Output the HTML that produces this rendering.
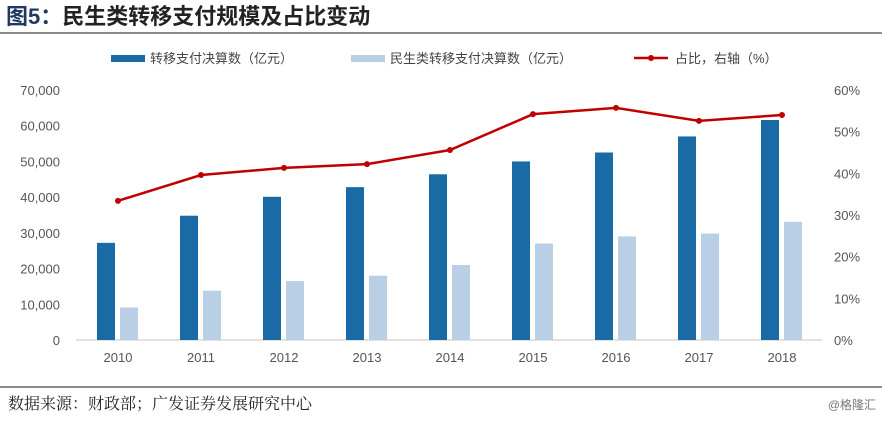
<!DOCTYPE html>
<html><head><meta charset="utf-8"><style>
body{margin:0;background:#fff;width:882px;height:417px;overflow:hidden;font-family:"Liberation Sans","Noto Sans CJK SC",sans-serif;}
</style></head><body>
<svg width="882" height="417" xmlns="http://www.w3.org/2000/svg">
<text x="6" y="24" font-size="22" font-weight="bold" fill="#1f3a5f" font-family="Liberation Sans,Noto Sans CJK SC,sans-serif">图5：<tspan fill="#222">民生类转移支付规模及占比变动</tspan></text>
<line x1="0" y1="33" x2="882" y2="33" stroke="#666" stroke-width="1.5"/>
<g font-size="13" fill="#444" font-family="Liberation Sans,Noto Sans CJK SC,sans-serif">
<rect x="111" y="55" width="34" height="7" fill="#1a6aa6"/>
<text x="150" y="63">转移支付决算数（亿元）</text>
<rect x="351" y="55" width="34" height="7" fill="#b8cfe6"/>
<text x="390" y="63">民生类转移支付决算数（亿元）</text>
<line x1="634" y1="58" x2="668" y2="58" stroke="#c00000" stroke-width="2.5"/>
<circle cx="651" cy="58" r="3" fill="#c00000"/>
<text x="675" y="63">占比，右轴（%）</text>
</g>
<g id="axes"></g>
<g id="marks"></g>
<line x1="0" y1="387" x2="882" y2="387" stroke="#666" stroke-width="1.5"/>
<text x="8" y="409" font-size="16" fill="#222" font-family="Noto Serif CJK SC,serif">数据来源：财政部；广发证券发展研究中心</text>
<text x="876" y="409" font-size="12" fill="#777" text-anchor="end">@格隆汇</text>
</svg>
<script>
const categories=["2010","2011","2012","2013","2014","2015","2016","2017","2018"];
const totalValues=[27200,34800,40100,42800,46400,50000,52500,57000,61600];
const livelihoodValues=[9100,13800,16500,18000,21000,27000,29000,29800,33100];
const ratioValues=[33.4,39.6,41.3,42.2,45.6,54.2,55.7,52.6,54.0];
const leftTicks=[0,10000,20000,30000,40000,50000,60000,70000];
const rightTicks=[0,10,20,30,40,50,60];
const NS="http://www.w3.org/2000/svg";
const y0=340,yTop=90,x0=76,x1=822;
const yL=v=>y0-(v/70000)*(y0-yTop);
const yR=v=>y0-(v/60)*(y0-yTop);
const step=83;
const xC=i=>118+step*i;
function mk(tag,attrs,parent){const e=document.createElementNS(NS,tag);for(const k in attrs)e.setAttribute(k,attrs[k]);parent.appendChild(e);return e;}
const axes=document.getElementById('axes'),marks=document.getElementById('marks');
leftTicks.forEach(t=>{const e=mk('text',{x:60,y:yL(t)+5,'text-anchor':'end','font-size':13,fill:'#555'},axes);e.textContent=t.toLocaleString('en-US');

});
rightTicks.forEach(t=>{const e=mk('text',{x:834,y:yR(t)+5,'font-size':13,fill:'#555'},axes);e.textContent=t+'%';

});
const ax=mk('line',{x1:x0,y1:y0,x2:x1,y2:y0,stroke:'#d9d9d9','stroke-width':1.5},axes);


categories.forEach((c,i)=>{
const e=mk('text',{x:xC(i),y:362,'text-anchor':'middle','font-size':13,fill:'#555'},axes);e.textContent=c;


const b=mk('rect',{x:xC(i)-21,y:yL(totalValues[i]),width:18,height:y0-yL(totalValues[i]),fill:'#1a6aa6'},marks);


const b2=mk('rect',{x:xC(i)+2,y:yL(livelihoodValues[i]),width:18,height:y0-yL(livelihoodValues[i]),fill:'#b8cfe6'},marks);


});
const pts=ratioValues.map((v,i)=>xC(i)+','+yR(v)).join(' ');
const pl=mk('polyline',{points:pts,fill:'none',stroke:'#c00000','stroke-width':2.5},marks);


ratioValues.forEach((v,i)=>{const p=mk('circle',{cx:xC(i),cy:yR(v),r:3,fill:'#c00000'},marks);

});
</script>
</body></html>
